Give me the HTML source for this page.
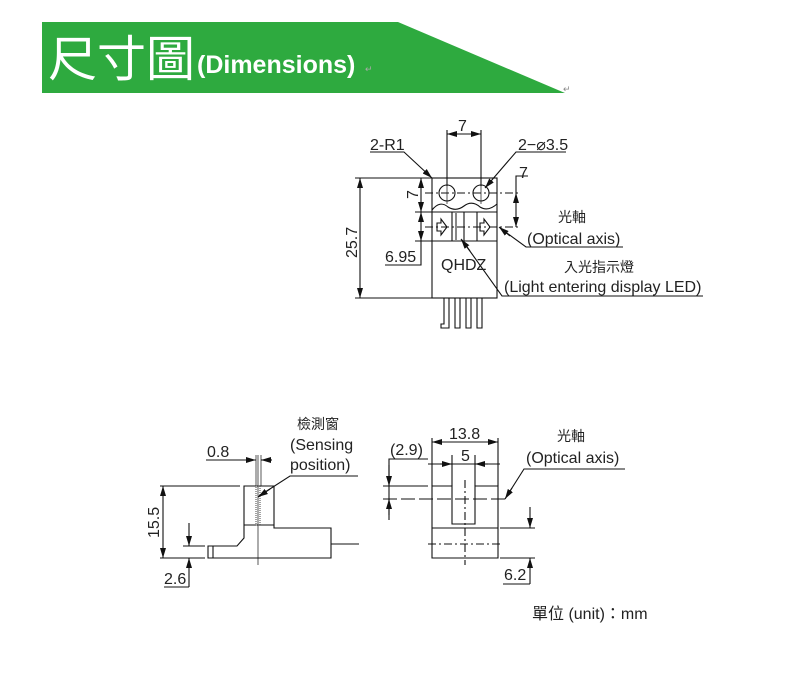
<!DOCTYPE html>
<html><head><meta charset="utf-8"><style>
html,body{margin:0;padding:0;background:#fff;width:788px;height:677px;overflow:hidden}
svg{display:block}
text{font-family:"Liberation Sans","Noto Sans CJK TC",sans-serif;fill:#222}
</style></head><body>
<svg width="788" height="677" viewBox="0 0 788 677" xmlns="http://www.w3.org/2000/svg">
<defs>
<marker id="a" viewBox="0 0 10 6" refX="10" refY="3" markerWidth="10" markerHeight="6" orient="auto-start-reverse" markerUnits="userSpaceOnUse"><path d="M0,0L10,3L0,6z" fill="#111"/></marker>
</defs>
<polygon points="42,22 398,22 565,93 42,93" fill="#2eaa3f"/>
<text x="48" y="76" font-size="49" style="fill:#fff" font-family="Noto Sans CJK TC,sans-serif">尺寸圖</text>
<text x="197" y="73" font-size="25" font-weight="bold" style="fill:#fff">(Dimensions)</text>
<text x="365" y="72" font-size="9" style="fill:#aaa">↵</text>
<text x="563" y="92" font-size="9" style="fill:#888">↵</text>

<g stroke="#111" stroke-width="1.1" fill="none">
<rect x="432" y="178" width="65" height="120"/>
<circle cx="447" cy="193" r="8"/><circle cx="481" cy="193" r="8"/>
<path d="M432,210 Q440,200 448,207 Q456,212 464,206 Q472,200 480,207 Q488,212 497,204"/>
<line x1="432" y1="212" x2="497" y2="212"/><line x1="432" y1="241" x2="497" y2="241"/>
<line x1="452" y1="212" x2="452" y2="241"/><line x1="456" y1="212" x2="456" y2="241" stroke="#888" stroke-width="2"/>
<line x1="464" y1="212" x2="464" y2="241"/><line x1="477" y1="212" x2="477" y2="241"/>
<path d="M437,223h4v-4l6,8l-6,8v-4h-4z"/><path d="M480,223h4v-4l6,8l-6,8v-4h-4z"/>
<line x1="425" y1="193" x2="520" y2="193" stroke-dasharray="8,3,2,3"/>
<line x1="425" y1="227" x2="520" y2="227" stroke-dasharray="8,3,2,3"/>
<line x1="447" y1="182" x2="447" y2="204" stroke-width="0.7"/><line x1="481" y1="182" x2="481" y2="204" stroke-width="0.7"/>
<path d="M444,298v26h-3v4h8v-30M455,298v30h5v-30M466,298v30h5v-30M477,298v30h5v-30"/>
<line x1="447" y1="130" x2="447" y2="186"/><line x1="481" y1="130" x2="481" y2="186"/>
<line x1="447" y1="134" x2="481" y2="134" marker-start="url(#a)" marker-end="url(#a)"/>
<polyline points="370,152 404,152 432,178" marker-end="url(#a)"/>
<polyline points="566,152 516,152 485,188" marker-end="url(#a)"/>
<line x1="355" y1="178" x2="432" y2="178"/><line x1="355" y1="298" x2="432" y2="298"/>
<line x1="360" y1="178" x2="360" y2="298" marker-start="url(#a)" marker-end="url(#a)"/>
<line x1="415" y1="212" x2="432" y2="212"/><line x1="415" y1="241" x2="432" y2="241"/>
<line x1="421" y1="178" x2="421" y2="212" marker-start="url(#a)" marker-end="url(#a)"/>
<line x1="421" y1="212" x2="421" y2="241" marker-start="url(#a)" marker-end="url(#a)"/>
<polyline points="385,265 421,265 421,241"/>
<polyline points="528,176 516,176 516,193"/>
<line x1="516" y1="193" x2="516" y2="227" marker-start="url(#a)" marker-end="url(#a)"/>
<polyline points="623,247 526,247 500,228" /><line x1="510" y1="236" x2="499" y2="227" marker-end="url(#a)"/>
<polyline points="703,296 502,296 462,240"/><line x1="470" y1="251" x2="461" y2="239" marker-end="url(#a)"/>

<path d="M244,486h30v42h57v30H208v-12h29l7-8z"/>
<line x1="213" y1="546" x2="213" y2="558"/>
<line x1="244" y1="525" x2="274" y2="525"/>
<line x1="331" y1="544" x2="359" y2="544"/>
<rect x="256" y="486" width="4" height="39" stroke-dasharray="1,1" stroke="#555"/>
<line x1="258" y1="455" x2="258" y2="565" stroke-width="0.7"/>
<line x1="256" y1="455" x2="256" y2="486" stroke-width="0.7"/><line x1="261" y1="455" x2="261" y2="486" stroke-width="0.7"/>
<line x1="206" y1="460" x2="256" y2="460" marker-end="url(#a)"/><line x1="272" y1="460" x2="261" y2="460" marker-end="url(#a)"/>
<polyline points="358,476 290,476 259,496" /><line x1="270" y1="489" x2="258" y2="497" marker-end="url(#a)"/>
<line x1="160" y1="486" x2="240" y2="486"/><line x1="160" y1="558" x2="205" y2="558"/>
<line x1="163" y1="486" x2="163" y2="558" marker-start="url(#a)" marker-end="url(#a)"/>
<line x1="183" y1="546" x2="205" y2="546"/>
<line x1="189" y1="523" x2="189" y2="546" marker-end="url(#a)"/>
<line x1="189" y1="587" x2="189" y2="558" marker-end="url(#a)"/>
<polyline points="164,587 189,587"/>

<path d="M432,486h20v38h23v-38h23v72h-66z"/>
<line x1="432" y1="528" x2="498" y2="528"/>
<line x1="428" y1="544" x2="500" y2="544" stroke-dasharray="8,3,2,3"/>
<line x1="465" y1="480" x2="465" y2="565" stroke-dasharray="8,3,2,3"/>
<line x1="383" y1="499" x2="505" y2="499" stroke-dasharray="14,4"/>
<line x1="432" y1="438" x2="432" y2="486"/><line x1="498" y1="438" x2="498" y2="486"/>
<line x1="432" y1="442" x2="498" y2="442" marker-start="url(#a)" marker-end="url(#a)"/>
<line x1="452" y1="455" x2="452" y2="486"/><line x1="475" y1="455" x2="475" y2="486"/>
<line x1="428" y1="464" x2="500" y2="464"/>
<line x1="440" y1="464" x2="452" y2="464" marker-end="url(#a)"/><line x1="488" y1="464" x2="475" y2="464" marker-end="url(#a)"/>
<line x1="383" y1="486" x2="428" y2="486"/>
<polyline points="428,459 389,459 389,520"/>
<line x1="389" y1="465" x2="389" y2="486" marker-end="url(#a)"/>
<line x1="389" y1="515" x2="389" y2="499" marker-end="url(#a)"/>
<polyline points="625,469 524,469 505,499"/><line x1="512" y1="488" x2="505" y2="499" marker-end="url(#a)"/>
<line x1="500" y1="528" x2="535" y2="528"/><line x1="500" y1="558" x2="535" y2="558"/>
<line x1="530" y1="507" x2="530" y2="528" marker-end="url(#a)"/>
<line x1="530" y1="584" x2="530" y2="558" marker-end="url(#a)"/>
<line x1="503" y1="584" x2="530" y2="584"/>
</g>

<g font-size="16">
<text x="458" y="131">7</text>
<text x="370" y="150">2-R1</text>
<text x="518" y="150">2−⌀3.5</text>
<text x="519" y="178">7</text>
<text transform="translate(418,199) rotate(-90)">7</text>
<text transform="translate(357,258) rotate(-90)">25.7</text>
<text x="385" y="262">6.95</text>
<text x="441" y="270">QHDZ</text>
<text x="558" y="222" font-size="14">光軸</text>
<text x="527" y="244">(Optical axis)</text>
<text x="564" y="272" font-size="14">入光指示燈</text>
<text x="504" y="292">(Light entering display LED)</text>
<text x="297" y="429" font-size="14">檢測窗</text>
<text x="290" y="450">(Sensing</text>
<text x="290" y="470">position)</text>
<text x="207" y="457">0.8</text>
<text transform="translate(159,538) rotate(-90)">15.5</text>
<text x="164" y="584">2.6</text>
<text x="449" y="439">13.8</text>
<text x="461" y="461">5</text>
<text x="390" y="455">(2.9)</text>
<text x="557" y="441" font-size="14">光軸</text>
<text x="526" y="463">(Optical axis)</text>
<text x="504" y="580">6.2</text>
<text x="532" y="619">單位 (unit)：mm</text>
</g>
</svg>
</body></html>
